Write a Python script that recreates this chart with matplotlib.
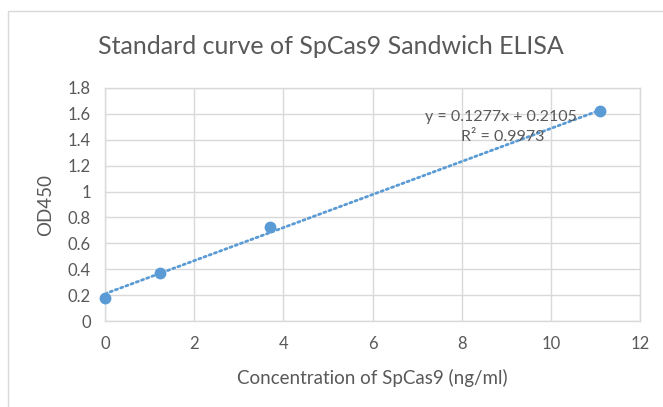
import matplotlib
matplotlib.use("Agg")
import matplotlib.pyplot as plt
from matplotlib.patches import Rectangle

# Data
concentration = [0.0, 1.23, 3.7, 11.1]
od450 = [0.18, 0.37, 0.73, 1.62]
slope = 0.1277
intercept = 0.2105
eq_text = "y = 0.1277x + 0.2105"
r2_text = "R² = 0.9973"
title = "Standard curve of SpCas9 Sandwich ELISA"
xlabel = "Concentration of SpCas9 (ng/ml)"
ylabel = "OD450"
xticks = [0, 2, 4, 6, 8, 10, 12]
yticks = [0, 0.2, 0.4, 0.6, 0.8, 1.0, 1.2, 1.4, 1.6, 1.8]
ytick_labels = ["0", "0.2", "0.4", "0.6", "0.8", "1", "1.2", "1.4", "1.6", "1.8"]

plt.rcParams['font.family'] = ['Lato', 'DejaVu Sans']
text_color = "#595959"
grid_color = "#D9D9D9"
blue = "#5B9BD5"

fig = plt.figure(figsize=(6.63, 4.07), dpi=100)
fig.patches.append(Rectangle((8/663, -0.1), 1.2, 1.1 - 11/407,
                             transform=fig.transFigure, fill=False,
                             edgecolor=grid_color, linewidth=1.0))
ax = fig.add_axes([105/663, (407-321)/407, (640-105)/663, (321-88)/407])

ax.set_xlim(0, 12)
ax.set_ylim(0, 1.8)
ax.set_xticks(xticks)
ax.set_yticks(yticks)
ax.set_yticklabels(ytick_labels)
ax.grid(True, color=grid_color, linewidth=1.0)
ax.set_axisbelow(True)
for s in ax.spines.values():
    s.set_color(grid_color)
    s.set_linewidth(1.0)
ax.tick_params(length=0, labelsize=12, colors=text_color)
ax.tick_params(axis='x', pad=11)
ax.tick_params(axis='y', pad=10)

# trendline
xs = [min(concentration), max(concentration)]
ys = [slope * v + intercept for v in xs]
ax.plot(xs, ys, color=blue, linewidth=2, linestyle=(0, (0.8, 1.2)),
        dash_capstyle='round', zorder=2)
ax.plot(concentration, od450, 'o', color=blue, markersize=7.5, zorder=3,
        clip_on=False)

ax.text(8.89, 1.575, eq_text, ha='center', va='center', fontsize=11.5, color=text_color)
ax.text(8.93, 1.42, r2_text, ha='center', va='center', fontsize=11.5, color=text_color)

ax.set_xlabel(xlabel, fontsize=13.5, color=text_color, labelpad=12)
ax.set_ylabel(ylabel, fontsize=13.5, color=text_color, labelpad=10)
fig.text(331/663, 1 - 47/407, title, ha='center', va='center', fontsize=18, color=text_color)

fig.savefig("out.png", dpi=100)
